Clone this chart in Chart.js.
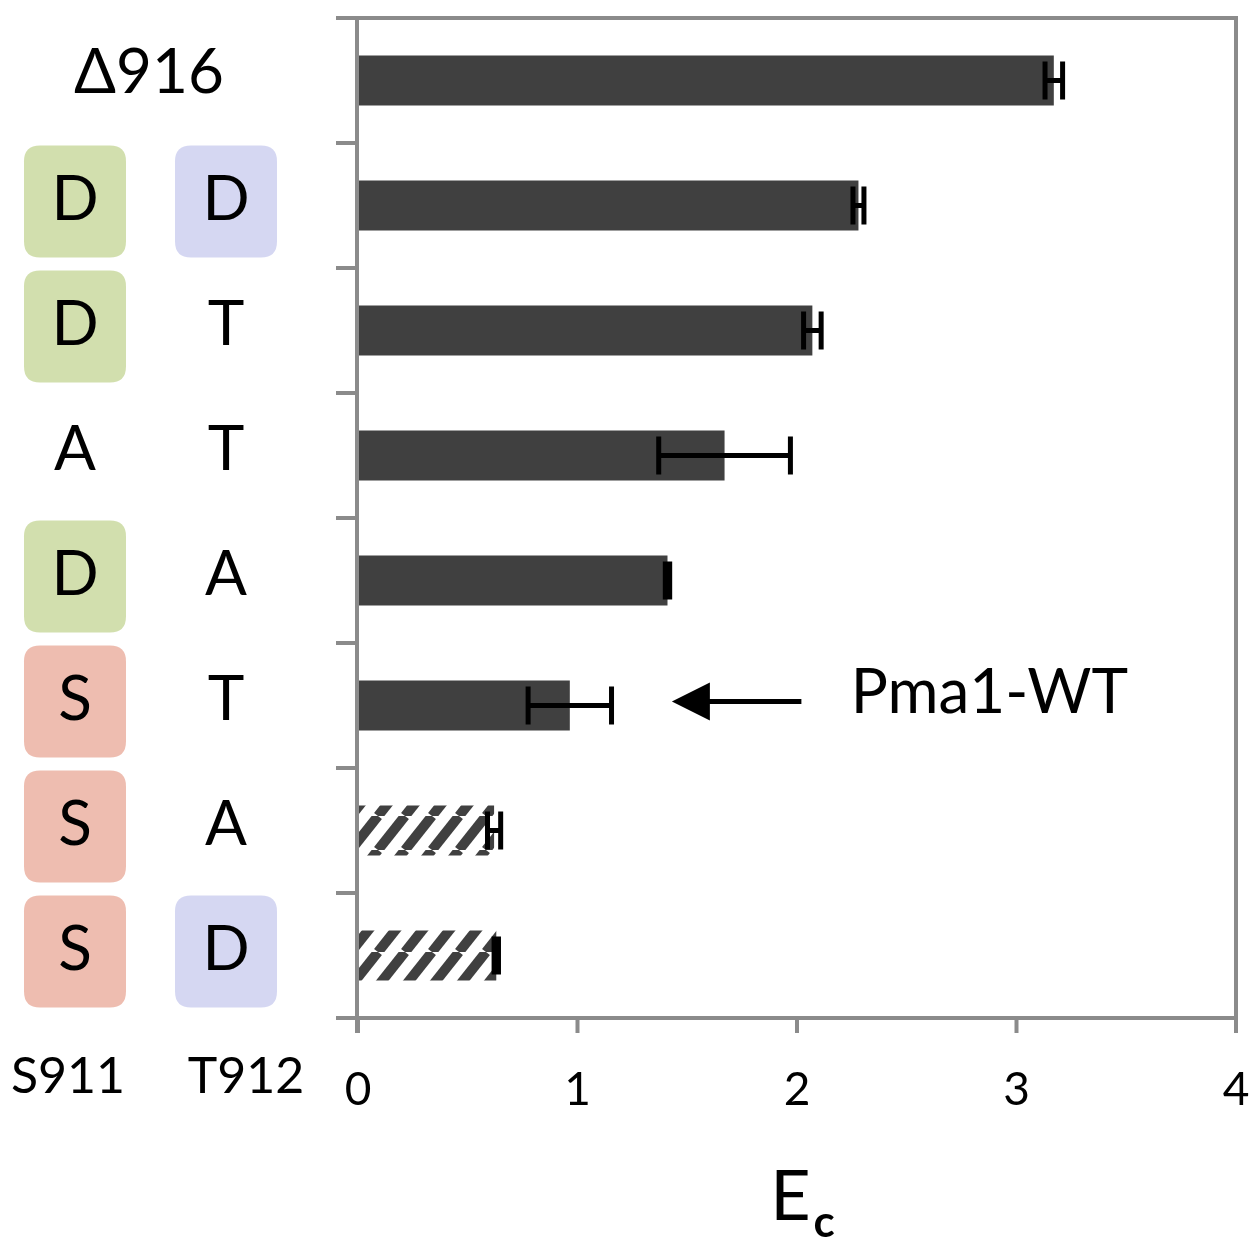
<!DOCTYPE html>
<html>
<head>
<meta charset="utf-8">
<script src="https://cdn.jsdelivr.net/npm/chart.js@4/dist/chart.umd.min.js"></script>
<style>
  html, body { margin: 0; padding: 0; background: #ffffff; }
  #wrap { width: 1252px; height: 1239px; position: relative; }
</style>
</head>
<body>
<div id="wrap"><canvas id="chart" width="1252" height="1239"></canvas></div>
<script>
// Pma1 C-terminal variants: residue at S911 and T912, top to bottom
const categories = ['Δ916', 'D911 D912', 'D911 T912', 'A911 T912', 'D911 A912', 'S911 T912', 'S911 A912', 'S911 D912'];
const s911 = [null, 'D', 'D', 'A', 'D', 'S', 'S', 'S'];
const t912 = [null, 'D', 'T', 'T', 'A', 'T', 'A', 'D'];
const ecValues = [3.17, 2.28, 2.07, 1.67, 1.41, 0.965, 0.62, 0.63];
const ecErrors = [0.04, 0.025, 0.04, 0.30, 0.01, 0.19, 0.03, 0.01];
const hatched = [false, false, false, false, false, false, true, true];
const xTicks = [0, 1, 2, 3, 4];
const columnHeaders = ['S911', 'T912'];
const wtIndex = 5;            // row of the wild-type protein
const wtArrow = [1.43, 2.02]; // arrow tip and tail, in Ec units
const wtLabelAt = 2.245;

const FONT = "Lato, 'Noto Sans', 'DejaVu Sans', sans-serif";
const AXIS_GREY = '#8b8b8b';
const BAR_DARK = '#404040';

// residue boxes: phospho-mimic / native residues get a tinted square
const boxColors = {
  s911: { D: '#d2dfae', S: '#eebdb0' },
  t912: { D: '#d5d7f2' }
};

function makeHatch() {
  const w = 27, h = 34;
  const c = document.createElement('canvas');
  c.width = w; c.height = h;
  const g = c.getContext('2d');
  g.fillStyle = '#ffffff';
  g.fillRect(0, 0, w, h);
  g.strokeStyle = BAR_DARK;
  g.lineWidth = 10;
  for (const dx of [-w, 0, w]) {
    g.beginPath();
    g.moveTo(dx, h);
    g.lineTo(dx + w, 0);
    g.stroke();
  }
  return g.createPattern(c, 'repeat');
}
const hatch = makeHatch();

function roundRect(ctx, x, y, w, h, r) {
  ctx.beginPath();
  ctx.moveTo(x + r, y);
  ctx.lineTo(x + w - r, y);
  ctx.quadraticCurveTo(x + w, y, x + w, y + r);
  ctx.lineTo(x + w, y + h - r);
  ctx.quadraticCurveTo(x + w, y + h, x + w - r, y + h);
  ctx.lineTo(x + r, y + h);
  ctx.quadraticCurveTo(x, y + h, x, y + h - r);
  ctx.lineTo(x, y + r);
  ctx.quadraticCurveTo(x, y, x + r, y);
  ctx.closePath();
}

// axis frame, tick marks drawn from the chart scales
const framePlugin = {
  id: 'frame',
  beforeDatasetsDraw(chart) {
    const { ctx, chartArea: a, scales: { x, y } } = chart;
    ctx.save();
    ctx.strokeStyle = AXIS_GREY;
    ctx.lineWidth = 4;
    ctx.lineCap = 'butt';
    ctx.beginPath();
    // right border
    ctx.moveTo(a.right, a.top - 2);
    ctx.lineTo(a.right, a.bottom + 2);
    // bottom axis
    ctx.moveTo(a.left - 22, a.bottom);
    ctx.lineTo(a.right + 2, a.bottom);
    // category boundaries (incl. the top border)
    for (let i = 0; i <= categories.length; i++) {
      const py = y.getPixelForValue(i - 0.5);
      ctx.moveTo(a.left - 22, py);
      ctx.lineTo(i === 0 ? a.right + 2 : a.left, py);
    }
    // value ticks
    xTicks.forEach(v => {
      const px = x.getPixelForValue(v);
      ctx.moveTo(px, a.bottom);
      ctx.lineTo(px, a.bottom + 15);
    });
    ctx.stroke();
    ctx.restore();
  },
  afterDatasetsDraw(chart) {
    const { ctx, chartArea: a } = chart;
    ctx.save();
    ctx.strokeStyle = AXIS_GREY;
    ctx.lineWidth = 4;
    // left axis over the bar bases, running down into the 0 tick
    ctx.beginPath();
    ctx.moveTo(a.left - 1, a.top - 2);
    ctx.lineTo(a.left - 1, a.bottom + 15);
    ctx.stroke();
    ctx.restore();
  }
};

const annotatePlugin = {
  id: 'annotate',
  afterDatasetsDraw(chart) {
    const { ctx, chartArea: a, scales: { x, y } } = chart;
    ctx.save();

    // error bars
    ctx.strokeStyle = '#000000';
    ctx.lineWidth = 5;
    ecValues.forEach((v, i) => {
      const cy = y.getPixelForValue(i);
      const x0 = x.getPixelForValue(v - ecErrors[i]);
      const x1 = x.getPixelForValue(v + ecErrors[i]);
      ctx.beginPath();
      ctx.moveTo(x0, cy); ctx.lineTo(x1, cy);
      ctx.moveTo(x0, cy - 19); ctx.lineTo(x0, cy + 19);
      ctx.moveTo(x1, cy - 19); ctx.lineTo(x1, cy + 19);
      ctx.stroke();
    });

    // value tick labels
    ctx.fillStyle = '#000000';
    ctx.textAlign = 'center';
    ctx.textBaseline = 'alphabetic';
    ctx.font = `46px ${FONT}`;
    xTicks.forEach(v => ctx.fillText(String(v), x.getPixelForValue(v), a.bottom + 87));

    // axis title E with subscript c
    const midX = (a.left + a.right) / 2;
    ctx.textAlign = 'left';
    ctx.font = `70px ${FONT}`;
    const wE = ctx.measureText('E').width;
    ctx.font = `bold 44px ${FONT}`;
    const wc = ctx.measureText('c').width;
    const startX = midX - (wE + wc + 4) / 2 + 6;
    ctx.font = `70px ${FONT}`;
    ctx.fillText('E', startX, a.bottom + 202);
    ctx.font = `bold 44px ${FONT}`;
    ctx.fillText('c', startX + wE + 3, a.bottom + 219);

    // residue labels on the left
    const colX = [75, 226];
    const boxW = 102, boxH = 112;
    categories.forEach((c, i) => {
      const cy = y.getPixelForValue(i);
      if (s911[i] === null) {
        ctx.textAlign = 'center';
        ctx.font = `62px ${FONT}`;
        ctx.fillStyle = '#000000';
        ctx.fillText(c, 149, cy + 12);
        return;
      }
      [[s911[i], boxColors.s911], [t912[i], boxColors.t912]].forEach(([res, palette], k) => {
        const fill = palette[res];
        if (fill) {
          ctx.fillStyle = fill;
          roundRect(ctx, colX[k] - boxW / 2, cy - 4 - boxH / 2, boxW, boxH, 16);
          ctx.fill();
        }
        ctx.fillStyle = '#000000';
        ctx.textAlign = 'center';
        ctx.font = `62px ${FONT}`;
        ctx.fillText(res, colX[k], cy + 14);
      });
    });

    // column headers under the residue labels
    ctx.font = `50px ${FONT}`;
    ctx.fillStyle = '#000000';
    ctx.textAlign = 'center';
    ctx.fillText(columnHeaders[0], 68, a.bottom + 75);
    ctx.fillText(columnHeaders[1], 246, a.bottom + 75);

    // wild-type pointer
    const ay = y.getPixelForValue(wtIndex) - 4;
    const tip = x.getPixelForValue(wtArrow[0]);
    const tail = x.getPixelForValue(wtArrow[1]);
    ctx.strokeStyle = '#000000';
    ctx.lineWidth = 5;
    ctx.beginPath();
    ctx.moveTo(tip + 30, ay);
    ctx.lineTo(tail, ay);
    ctx.stroke();
    ctx.fillStyle = '#000000';
    ctx.beginPath();
    ctx.moveTo(tip, ay);
    ctx.lineTo(tip + 38, ay - 19);
    ctx.lineTo(tip + 38, ay + 19);
    ctx.closePath();
    ctx.fill();
    ctx.textAlign = 'left';
    ctx.font = `62px ${FONT}`;
    ctx.fillText('Pma1-WT', x.getPixelForValue(wtLabelAt), ay + 11);

    ctx.restore();
  }
};

new Chart(document.getElementById('chart'), {
  type: 'bar',
  data: {
    labels: categories,
    datasets: [{
      data: ecValues,
      backgroundColor: hatched.map(h => h ? hatch : BAR_DARK),
      borderWidth: 0,
      barPercentage: 0.4,
      categoryPercentage: 1.0
    }]
  },
  options: {
    indexAxis: 'y',
    responsive: false,
    animation: false,
    devicePixelRatio: 1,
    layout: { padding: { left: 358, right: 16, top: 18, bottom: 221 } },
    plugins: { legend: { display: false }, tooltip: { enabled: false } },
    scales: {
      x: { type: 'linear', min: 0, max: 4, display: false },
      y: { type: 'category', display: false }
    }
  },
  plugins: [framePlugin, annotatePlugin]
});
</script>
</body>
</html>
